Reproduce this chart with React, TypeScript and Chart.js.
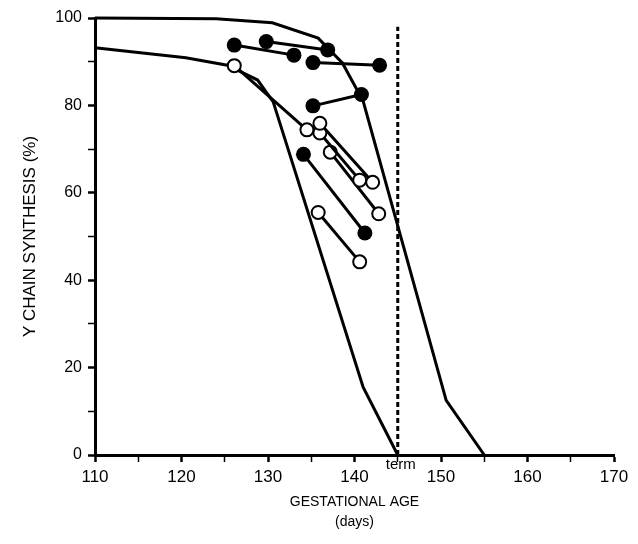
import React, { useEffect, useRef } from 'react';
import { Chart, registerables } from 'chart.js';

Chart.register(...registerables);

// Envelope curves (gestational age in days, % gamma chain synthesis)
const upperAge = [110, 124, 130.5, 135.8, 138.6, 141, 150.6, 155];
const upperPct = [100, 99.8, 98.9, 95.4, 89.7, 81, 12.5, 0];
const lowerAge = [110, 120.5, 125.3, 128.8, 130.6, 141, 145];
const lowerPct = [93.2, 90.9, 89.2, 85.8, 80.8, 15.5, 0];

// Paired serial measurements, filled circles
const filledFromAge = [126.1, 129.8, 135.2, 135.2, 134.1];
const filledFromPct = [93.8, 94.6, 89.8, 79.9, 68.8];
const filledToAge = [133.0, 136.9, 142.9, 140.8, 141.2];
const filledToPct = [91.5, 92.7, 89.2, 82.5, 50.8];

// Paired serial measurements, open circles
const openFromAge = [126.1, 136.0, 136.0, 137.2, 135.8];
const openFromPct = [89.1, 75.9, 73.7, 69.3, 55.5];
const openToAge = [134.5, 142.1, 140.6, 142.8, 140.6];
const openToPct = [74.4, 62.4, 62.9, 55.2, 44.2];

// Term marker
const termAge = 145;
const termTopPct = 98;
const termLabel = 'term';

// Axes
const xMin = 110;
const xMax = 170;
const xStep = 5;
const xLabelEvery = 10;
const yMin = 0;
const yMax = 100;
const yStep = 10;
const yLabelEvery = 20;
const xTitle = ['GESTATIONAL AGE', '(days)'];
const yTitle = 'Y CHAIN SYNTHESIS (%)';

const FONT = "'Liberation Sans', Arial, sans-serif";

export default function App() {
  const ref = useRef<HTMLCanvasElement | null>(null);

  useEffect(() => {
    const canvas = ref.current;
    if (!canvas) return;

    const pairDatasets: any[] = [];
    filledFromAge.forEach((a, i) => {
      pairDatasets.push({
        type: 'line',
        data: [
          { x: a, y: filledFromPct[i] },
          { x: filledToAge[i], y: filledToPct[i] },
        ],
        borderColor: '#000',
        borderWidth: 3,
        pointRadius: 7.5,
        pointBackgroundColor: '#000',
        pointBorderColor: '#000',
        pointBorderWidth: 0,
        showLine: true,
        tension: 0,
        order: 1,
      });
    });
    openFromAge.forEach((a, i) => {
      pairDatasets.push({
        type: 'line',
        data: [
          { x: a, y: openFromPct[i] },
          { x: openToAge[i], y: openToPct[i] },
        ],
        borderColor: '#000',
        borderWidth: 3,
        pointRadius: 6.5,
        pointBackgroundColor: '#fff',
        pointBorderColor: '#000',
        pointBorderWidth: 2,
        showLine: true,
        tension: 0,
        order: 0,
      });
    });

    const envelope = (ages: number[], pcts: number[]) => ({
      type: 'line',
      data: ages.map((a, i) => ({ x: a, y: pcts[i] })),
      borderColor: '#000',
      borderWidth: 3,
      pointRadius: 0,
      showLine: true,
      tension: 0,
      clip: false,
      order: 5,
    });

    const termPlugin = {
      id: 'termLabel',
      afterDraw(chart: any) {
        const { ctx, scales } = chart;
        const x = scales.x.getPixelForValue(termAge);
        ctx.save();
        ctx.font = `15px ${FONT}`;
        ctx.fillStyle = '#000';
        ctx.textAlign = 'center';
        ctx.textBaseline = 'middle';
        ctx.fillText(termLabel, x + 3, 465);
        ctx.restore();
      },
    };

    const chart = new Chart(canvas, {
      type: 'scatter',
      data: {
        datasets: [
          ...pairDatasets,
          envelope(upperAge, upperPct),
          envelope(lowerAge, lowerPct),
          {
            type: 'line',
            data: [
              { x: termAge, y: 0 },
              { x: termAge, y: termTopPct },
            ],
            borderColor: '#000',
            borderWidth: 3,
            borderDash: [5, 3],
            pointRadius: 0,
            showLine: true,
            order: 6,
          },
        ] as any,
      },
      options: {
        animation: false,
        responsive: false,
        events: [],
        layout: { padding: { top: 18, right: 24, left: 0, bottom: 0 } },
        plugins: {
          legend: { display: false },
          tooltip: { enabled: false },
        },
        scales: {
          x: {
            type: 'linear',
            min: xMin,
            max: xMax,
            afterFit: (s: any) => {
              s.height = 89;
            },
            ticks: {
              stepSize: xStep,
              autoSkip: false,
              maxRotation: 0,
              padding: 5,
              color: '#000',
              font: { family: FONT, size: 17 },
              callback: (v: any) => (Number(v) % xLabelEvery === 0 ? String(v) : ''),
            },
            grid: {
              drawOnChartArea: false,
              drawTicks: true,
              tickLength: 7,
              tickColor: '#000',
              tickWidth: (c: any) => (c.tick && c.tick.value % xLabelEvery === 0 ? 2.5 : 1.5),
            },
            border: { display: true, color: '#000', width: 3 },
            title: {
              display: true,
              text: xTitle,
              color: '#000',
              font: { family: FONT, size: 14, lineHeight: 1.43 },
              padding: { top: 0, bottom: 12 },
            },
          },
          y: {
            type: 'linear',
            min: yMin,
            max: yMax,
            afterFit: (s: any) => {
              s.width = 95;
            },
            ticks: {
              stepSize: yStep,
              autoSkip: false,
              padding: 6,
              color: '#000',
              font: { family: FONT, size: 16 },
              callback: (v: any) => (Number(v) % yLabelEvery === 0 ? String(v) : ''),
            },
            grid: {
              drawOnChartArea: false,
              drawTicks: true,
              tickLength: 7,
              tickColor: '#000',
              tickWidth: (c: any) => (c.tick && c.tick.value % yLabelEvery === 0 ? 2.5 : 1.5),
            },
            border: { display: true, color: '#000', width: 3 },
            title: {
              display: true,
              text: yTitle,
              color: '#000',
              font: { family: FONT, size: 17, lineHeight: 1.2 },
              padding: { top: 20, bottom: 0 },
            },
          },
        },
      },
      plugins: [termPlugin],
    } as any);

    return () => chart.destroy();
  }, []);

  return (
    <div style={{ position: 'absolute', left: 0, top: 0, width: 638, height: 544, background: '#fff' }}>
      <canvas ref={ref} width={638} height={544} style={{ width: 638, height: 544, display: 'block' }} />
    </div>
  );
}
